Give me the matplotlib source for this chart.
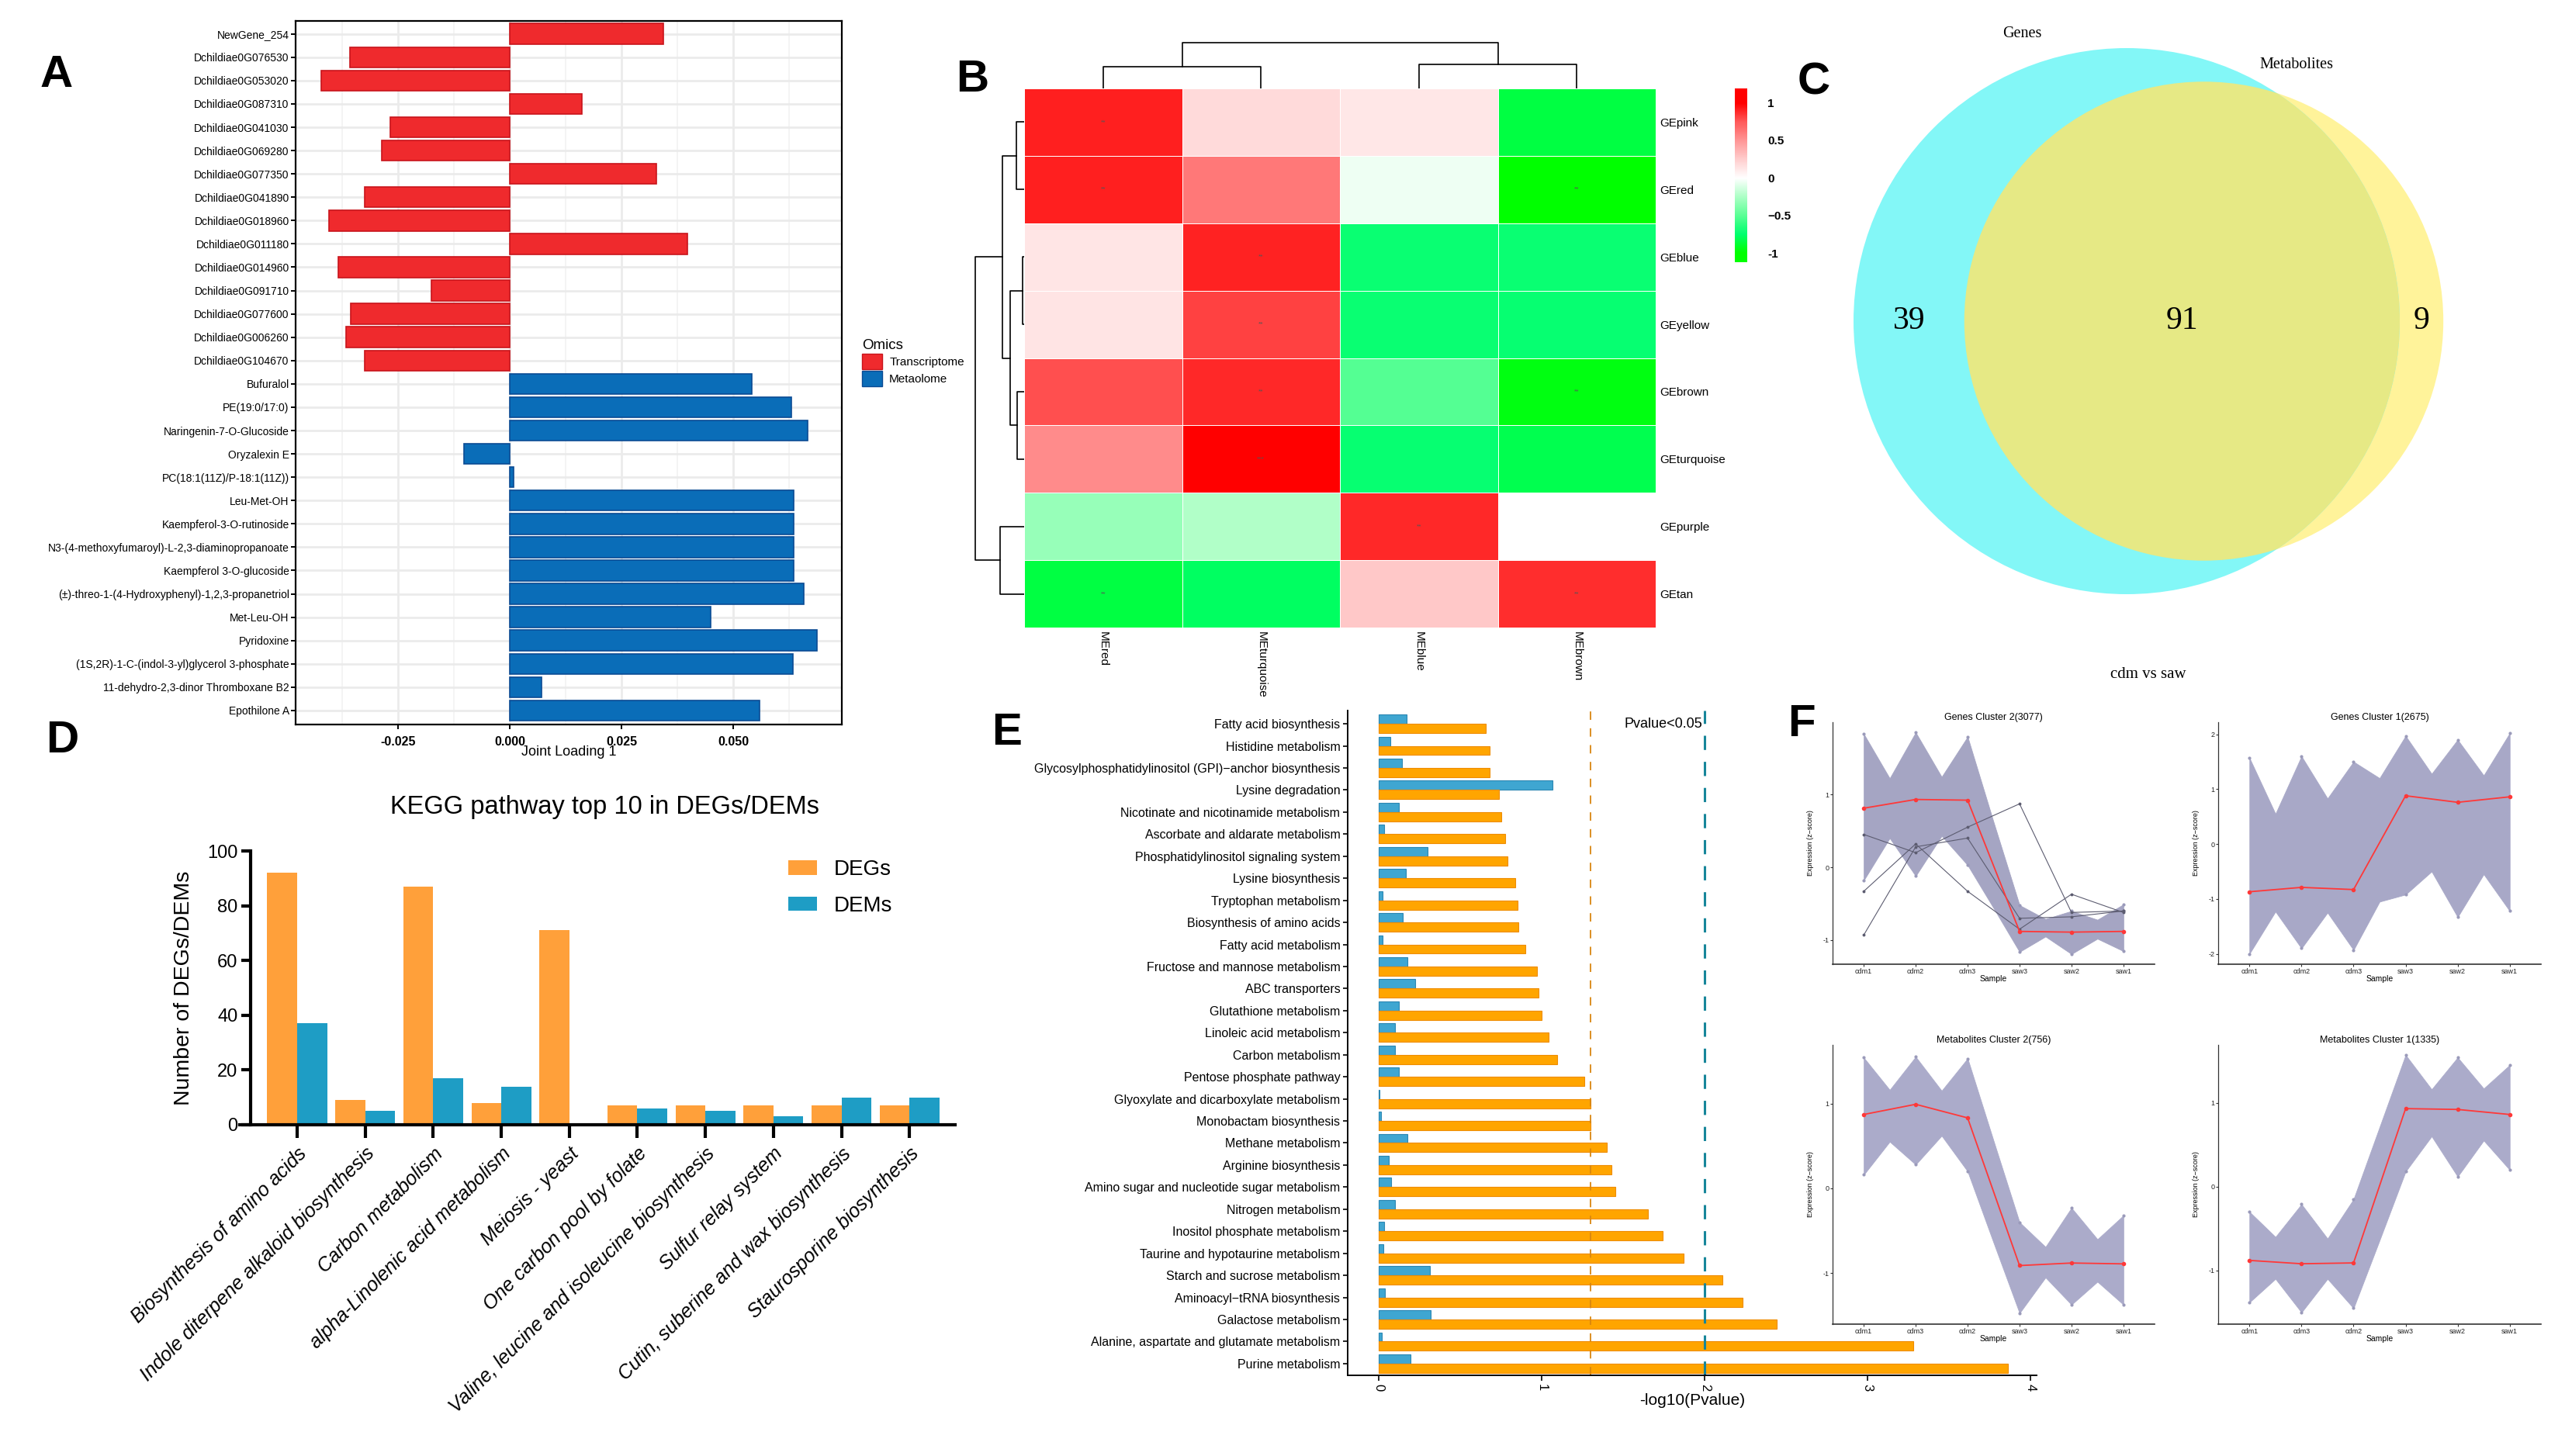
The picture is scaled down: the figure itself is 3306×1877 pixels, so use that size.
import numpy as np
import matplotlib
matplotlib.use("Agg")
import matplotlib.pyplot as plt
from matplotlib.colors import LinearSegmentedColormap
from matplotlib.patches import Circle

plt.rcParams['font.family'] = ['Liberation Sans', 'DejaVu Sans']

W, H = 3306, 1877  # output size in pixels

# === A: joint loading 1 ===
a_genes = ['NewGene_254', 'Dchildiae0G076530', 'Dchildiae0G053020', 'Dchildiae0G087310',
           'Dchildiae0G041030', 'Dchildiae0G069280', 'Dchildiae0G077350', 'Dchildiae0G041890',
           'Dchildiae0G018960', 'Dchildiae0G011180', 'Dchildiae0G014960', 'Dchildiae0G091710',
           'Dchildiae0G077600', 'Dchildiae0G006260', 'Dchildiae0G104670']
a_gene_loading = [0.0343, -0.0358, -0.0422, 0.0161, -0.0268, -0.0287, 0.0328, -0.0324,
                  -0.0404, 0.0398, -0.0383, -0.0176, -0.0355, -0.0367, -0.0324]
a_mets = ['Bufuralol', 'PE(19:0/17:0)', 'Naringenin-7-O-Glucoside', 'Oryzalexin E',
          'PC(18:1(11Z)/P-18:1(11Z))', 'Leu-Met-OH', 'Kaempferol-3-O-rutinoside',
          'N3-(4-methoxyfumaroyl)-L-2,3-diaminopropanoate', 'Kaempferol 3-O-glucoside',
          '(±)-threo-1-(4-Hydroxyphenyl)-1,2,3-propanetriol', 'Met-Leu-OH', 'Pyridoxine',
          '(1S,2R)-1-C-(indol-3-yl)glycerol 3-phosphate', '11-dehydro-2,3-dinor Thromboxane B2',
          'Epothilone A']
a_met_loading = [0.0541, 0.0630, 0.0666, -0.0103, 0.0009, 0.0635, 0.0635, 0.0635, 0.0635,
                 0.0658, 0.0450, 0.0688, 0.0633, 0.0071, 0.0559]

# === B: module correlation heatmap ===
b_rows = ['GEpink', 'GEred', 'GEblue', 'GEyellow', 'GEbrown', 'GEturquoise', 'GEpurple', 'GEtan']
b_cols = ['MEred', 'MEturquoise', 'MEblue', 'MEbrown']
b_corr = [[0.91, 0.18, 0.12, -0.85],
          [0.91, 0.62, -0.05, -1.00],
          [0.13, 0.90, -0.72, -0.72],
          [0.14, 0.82, -0.72, -0.73],
          [0.78, 0.89, -0.52, -0.96],
          [0.54, 1.00, -0.73, -0.82],
          [-0.32, -0.24, 0.89, np.nan],
          [-0.85, -0.78, 0.27, 0.87]]
b_stars = [['**', '', '', ''],
           ['**', '', '', '**'],
           ['', '**', '', ''],
           ['', '**', '', ''],
           ['', '**', '', '**'],
           ['', '***', '', ''],
           ['', '', '**', ''],
           ['**', '', '', '**']]
# dendrogram merges: (child a, child b, height); leaves are 0..n-1, merge k -> node n+k
b_row_merges = [(0, 1, 10), (2, 3, 2), (4, 5, 9), (9, 10, 18.5), (8, 11, 28), (6, 7, 31), (12, 13, 63)]
b_col_merges = [(0, 1, 28), (2, 3, 31), (4, 5, 59)]

# === C: venn ===
c_sets = ['Genes', 'Metabolites']
c_only_genes = 39
c_both = 91
c_only_mets = 9

# === D: KEGG top 10 ===
d_paths = ['Biosynthesis of amino acids', 'Indole diterpene alkaloid biosynthesis',
           'Carbon metabolism', 'alpha-Linolenic acid metabolism', 'Meiosis - yeast',
           'One carbon pool by folate', 'Valine, leucine and isoleucine biosynthesis',
           'Sulfur relay system', 'Cutin, suberine and wax biosynthesis',
           'Staurosporine biosynthesis']
d_degs = [92, 9, 87, 8, 71, 7, 7, 7, 7, 7]
d_dems = [37, 5, 17, 14, 0.6, 6, 5, 3, 10, 10]

# === E: enrichment -log10(P) ===
e_paths = ['Fatty acid biosynthesis', 'Histidine metabolism',
           'Glycosylphosphatidylinositol (GPI)\u2212anchor biosynthesis', 'Lysine degradation',
           'Nicotinate and nicotinamide metabolism', 'Ascorbate and aldarate metabolism',
           'Phosphatidylinositol signaling system', 'Lysine biosynthesis', 'Tryptophan metabolism',
           'Biosynthesis of amino acids', 'Fatty acid metabolism', 'Fructose and mannose metabolism',
           'ABC transporters', 'Glutathione metabolism', 'Linoleic acid metabolism',
           'Carbon metabolism', 'Pentose phosphate pathway', 'Glyoxylate and dicarboxylate metabolism',
           'Monobactam biosynthesis', 'Methane metabolism', 'Arginine biosynthesis',
           'Amino sugar and nucleotide sugar metabolism', 'Nitrogen metabolism',
           'Inositol phosphate metabolism', 'Taurine and hypotaurine metabolism',
           'Starch and sucrose metabolism', 'Aminoacyl\u2212tRNA biosynthesis', 'Galactose metabolism',
           'Alanine, aspartate and glutamate metabolism', 'Purine metabolism']
e_genes = [0.655, 0.68, 0.68, 0.74, 0.75, 0.775, 0.79, 0.84, 0.85, 0.855, 0.90, 0.97, 0.98,
           1.00, 1.043, 1.094, 1.26, 1.30, 1.30, 1.40, 1.43, 1.45, 1.65, 1.74, 1.87, 2.11,
           2.23, 2.44, 3.28, 3.86]
e_mets = [0.17, 0.072, 0.145, 1.064, 0.123, 0.034, 0.30, 0.166, 0.026, 0.149, 0.026, 0.175,
          0.226, 0.123, 0.098, 0.098, 0.123, 0.004, 0.013, 0.175, 0.064, 0.077, 0.098, 0.034,
          0.03, 0.315, 0.038, 0.32, 0.021, 0.196]
e_cut05 = 1.301
e_cut01 = 2.0

# === F: cluster trends (envelope at every half step between samples, plus mean) ===
f_samples_g = ['cdm1', 'cdm2', 'cdm3', 'saw3', 'saw2', 'saw1']
f_samples_m = ['cdm1', 'cdm3', 'cdm2', 'saw3', 'saw2', 'saw1']
gc2_upper = [1.83, 1.22, 1.85, 1.24, 1.79, 0.62, -0.52, -0.71, -0.60, -0.72, -0.51]
gc2_lower = [-0.18, 0.40, -0.12, 0.43, 0.03, -0.56, -1.16, -0.95, -1.19, -0.98, -1.15]
gc2_mean = [0.81, 0.93, 0.92, -0.88, -0.89, -0.88]
gc2_outliers = [[-0.93, 0.28, 0.40, -0.70, -0.68, -0.60],
                [-0.33, 0.32, -0.33, -0.85, -0.37, -0.62],
                [0.45, 0.20, 0.55, 0.87, -0.62, -0.60]]
gc1_upper = [1.57, 0.55, 1.60, 0.83, 1.50, 1.20, 1.97, 1.28, 1.90, 1.25, 2.02]
gc1_lower = [-2.00, -1.23, -1.90, -1.25, -1.93, -1.05, -0.92, -0.50, -1.33, -0.55, -1.22]
gc1_mean = [-0.87, -0.79, -0.83, 0.88, 0.76, 0.86]
mc2_upper = [1.54, 1.16, 1.55, 1.15, 1.53, 0.56, -0.40, -0.69, -0.23, -0.60, -0.32]
mc2_lower = [0.16, 0.55, 0.28, 0.62, 0.20, -0.64, -1.47, -1.05, -1.37, -1.10, -1.37]
mc2_mean = [0.87, 0.99, 0.83, -0.91, -0.88, -0.89]
mc1_upper = [-0.30, -0.60, -0.21, -0.62, -0.15, 0.71, 1.57, 1.16, 1.54, 1.17, 1.45]
mc1_lower = [-1.38, -1.10, -1.50, -1.10, -1.45, -0.64, 0.18, 0.60, 0.12, 0.55, 0.20]
mc1_mean = [-0.88, -0.92, -0.91, 0.93, 0.92, 0.86]


def box(x0, y0, x1, y1):
    """pixel box (top-left origin) -> figure fraction rect"""
    return [x0 / W, 1 - y1 / H, (x1 - x0) / W, (y1 - y0) / H]


def fx(x):
    return x / W


def fy(y):
    return 1 - y / H


fig = plt.figure(figsize=(W / 100, H / 100), dpi=100)

# ---------------- A ----------------
ax = fig.add_axes(box(381, 27, 1085, 934))
a_names = a_genes + a_mets
a_vals = a_gene_loading + a_met_loading
a_face = ['#EF2A2D'] * len(a_genes) + ['#0A6DB8'] * len(a_mets)
a_edge = ['#C8141B'] * len(a_genes) + ['#0A4B94'] * len(a_mets)
ya = np.arange(len(a_names))
ax.barh(ya, a_vals, height=0.88, color=a_face, edgecolor=a_edge, linewidth=1.2, zorder=3)
ax.set_ylim(len(a_names) - 0.4, -0.555)
ax.set_xlim(-0.0479, 0.0743)
ax.set_yticks(ya)
ax.set_yticklabels(a_names, fontsize=10)
ax.set_xticks([-0.025, 0, 0.025, 0.05])
ax.set_xticklabels(['-0.025', '0.000', '0.025', '0.050'], fontsize=11.5, fontweight='bold')
ax.set_xticks([-0.0375, -0.0125, 0.0125, 0.0375, 0.0625], minor=True)
ax.grid(which='major', axis='both', color='#EBEBEB', lw=2.0, zorder=0)
ax.grid(which='minor', axis='x', color='#F2F2F2', lw=1.2, zorder=0)
ax.tick_params(axis='y', length=4, width=1.4, pad=2)
ax.tick_params(axis='x', which='major', length=4, width=1.4, pad=7)
ax.tick_params(axis='x', which='minor', length=0)
for s in ax.spines.values():
    s.set_linewidth(1.6)
ax.set_xlabel('Joint Loading 1', fontsize=13)
ax.xaxis.set_label_coords(0.5, (934 - 961) / 907)
handles = [plt.Rectangle((0, 0), 1, 1, facecolor='#EF2A2D', edgecolor='#C8141B'),
           plt.Rectangle((0, 0), 1, 1, facecolor='#0A6DB8', edgecolor='#0A4B94')]
ax.legend(handles, ['Transcriptome', 'Metaolome'], title='Omics', loc='upper left',
          bbox_to_anchor=(fx(1111), fy(437)), bbox_transform=fig.transFigure, frameon=False,
          fontsize=11, title_fontsize=13.5, handlelength=1.7, handleheight=1.6,
          labelspacing=0.15, handletextpad=0.6, borderpad=0, borderaxespad=0, alignment='left')

# ---------------- B ----------------
b_cmap = LinearSegmentedColormap.from_list('gwr', [
    (0.0, '#00FF00'), (0.125, '#00FF6E'), (0.25, '#5CFF96'), (0.375, '#ADFFC6'),
    (0.5, '#FFFFFF'), (0.625, '#FFCDCD'), (0.75, '#FF9696'), (0.875, '#FF5A5A'), (1.0, '#FF0000')])

axh = fig.add_axes(box(1320, 114, 2134, 809))
corr = np.ma.masked_invalid(np.array(b_corr, dtype=float))
axh.pcolormesh(np.arange(len(b_cols) + 1), np.arange(len(b_rows) + 1), corr, cmap=b_cmap,
               vmin=-1, vmax=1, edgecolors='white', linewidth=0.7)
axh.set_xlim(0, len(b_cols))
axh.set_ylim(len(b_rows), 0)
for s in axh.spines.values():
    s.set_visible(False)
axh.set_xticks(np.arange(len(b_cols)) + 0.5)
axh.set_xticklabels(b_cols, rotation=270, fontsize=11)
axh.set_yticks(np.arange(len(b_rows)) + 0.5)
axh.set_yticklabels(b_rows, fontsize=11)
axh.yaxis.tick_right()
axh.tick_params(length=0, pad=3.5)
for i in range(len(b_rows)):
    for j in range(len(b_cols)):
        if b_stars[i][j]:
            axh.text(j + 0.5, i + 0.5, b_stars[i][j], ha='center', va='center',
                     fontsize=6, color='#555555')


def draw_dendro(axd, merges, n, along_y):
    pos = {i: i + 0.5 for i in range(n)}
    hgt = {i: 0.0 for i in range(n)}
    for k, (a, b, h) in enumerate(merges):
        hs = [hgt[a], h, h, hgt[b]]
        ps = [pos[a], pos[a], pos[b], pos[b]]
        if along_y:
            axd.plot(hs, ps, color='black', lw=1.2)
        else:
            axd.plot(ps, hs, color='black', lw=1.2)
        pos[n + k] = (pos[a] + pos[b]) / 2
        hgt[n + k] = h


axr = fig.add_axes(box(1250, 114, 1320, 809))
draw_dendro(axr, b_row_merges, len(b_rows), True)
axr.set_xlim(70, 0)
axr.set_ylim(len(b_rows), 0)
axr.axis('off')

axt = fig.add_axes(box(1320, 40, 2134, 114))
draw_dendro(axt, b_col_merges, len(b_cols), False)
axt.set_xlim(0, len(b_cols))
axt.set_ylim(0, 74)
axt.axis('off')

axc = fig.add_axes(box(2236, 114, 2252, 338))
grad = np.linspace(-1.12, 1.19, 300)
axc.imshow(np.clip(grad, -1, 1)[:, None], cmap=b_cmap, vmin=-1, vmax=1, aspect='auto',
           origin='lower', extent=(0, 1, -1.12, 1.19))
axc.set_xticks([])
axc.yaxis.tick_right()
axc.set_yticks([1, 0.5, 0, -0.5, -1])
axc.set_yticklabels(['1', '0.5', '0', '\u22120.5', '-1'], fontsize=11, fontweight='bold')
axc.tick_params(length=0, pad=19)
for s in axc.spines.values():
    s.set_visible(False)

# ---------------- C ----------------
axv = fig.add_axes(box(2250, 0, 3306, 880))
axv.set_xlim(2250, 3306)
axv.set_ylim(880, 0)
axv.axis('off')
n_genes = c_only_genes + c_both
n_mets = c_only_mets + c_both
px_per_unit = 352 / np.sqrt(n_genes)          # radius scale (px per sqrt(count))
r1 = px_per_unit * np.sqrt(n_genes)
r2 = px_per_unit * np.sqrt(n_mets)
target = np.pi * r1 ** 2 * c_both / n_genes


def lens(d):
    c1 = np.clip((d ** 2 + r1 ** 2 - r2 ** 2) / (2 * d * r1), -1, 1)
    c2 = np.clip((d ** 2 + r2 ** 2 - r1 ** 2) / (2 * d * r2), -1, 1)
    k = max((-d + r1 + r2) * (d + r1 - r2) * (d - r1 + r2) * (d + r1 + r2), 0)
    return r1 ** 2 * np.arccos(c1) + r2 ** 2 * np.arccos(c2) - 0.5 * np.sqrt(k)


lo, hi = r1 - r2 + 1e-6, r1 + r2
for _ in range(80):
    mid = (lo + hi) / 2
    if lens(mid) > target:
        lo = mid
    else:
        hi = mid
dist = (lo + hi) / 2
cx1, cy = 2741, 414
cx2 = cx1 + dist
met_only = Circle((cx2, cy), r2, facecolor='#FFF39A', edgecolor='none')
gene_c = Circle((cx1, cy), r1, facecolor='#83F7F7', edgecolor='none')
both_c = Circle((cx2, cy), r2, facecolor='#E6E985', edgecolor='none')
axv.add_patch(met_only)
axv.add_patch(gene_c)
axv.add_patch(both_c)
both_c.set_clip_path(gene_c)
serif = ['Liberation Serif', 'DejaVu Serif']
axv.text(((cx1 - r1) + (cx2 - r2)) / 2, cy, str(c_only_genes), ha='center', va='center',
         fontsize=30, family=serif)
axv.text(((cx2 - r2) + (cx1 + r1)) / 2, cy, str(c_both), ha='center', va='center',
         fontsize=30, family=serif)
axv.text(((cx1 + r1) + (cx2 + r2)) / 2, cy, str(c_only_mets), ha='center', va='center',
         fontsize=30, family=serif)
axv.text(2606, 44, c_sets[0], ha='center', va='center', fontsize=14.5, family=serif)
axv.text(2960, 84, c_sets[1], ha='center', va='center', fontsize=14.5, family=serif)
axv.text(2769, 870, 'cdm vs saw', ha='center', va='center', fontsize=15, family=serif)

# ---------------- D ----------------
axd = fig.add_axes(box(309, 1097, 1231, 1450))
xd = np.arange(len(d_paths))
axd.bar(xd - 0.22, d_degs, width=0.44, color='#FFA03A', label='DEGs', zorder=2)
axd.bar(xd + 0.22, d_dems, width=0.44, color='#1E9DC5', label='DEMs', zorder=2)
axd.set_xlim(-0.844, 9.67)
axd.set_ylim(0, 100)
axd.spines['top'].set_visible(False)
axd.spines['right'].set_visible(False)
axd.spines['left'].set_position(('data', -0.684))
axd.spines['left'].set_linewidth(3)
axd.spines['bottom'].set_linewidth(3)
axd.set_yticks(range(0, 101, 20))
axd.tick_params(axis='y', length=9, width=3, labelsize=17, pad=3)
axd.set_xticks(xd)
axd.set_xticklabels(d_paths, rotation=45, ha='right', rotation_mode='anchor',
                    fontstyle='italic', fontsize=18)
axd.tick_params(axis='x', length=12, width=3, pad=6)
axd.set_ylabel('Number of DEGs/DEMs', fontsize=20.5)
axd.yaxis.set_label_coords((250 - 309) / 922, 0.5)
axd.legend(loc='upper left', bbox_to_anchor=(fx(1016), fy(1108)), bbox_transform=fig.transFigure,
           frameon=False, fontsize=20, handlelength=1.33, handleheight=0.65, labelspacing=0.75,
           handletextpad=0.8, borderpad=0, borderaxespad=0)
fig.text(fx(779), fy(1040), 'KEGG pathway top 10 in DEGs/DEMs', ha='center', va='center',
         fontsize=23.5)

# ---------------- E ----------------
axe = fig.add_axes(box(1737, 916, 2625, 1773))
ye = np.arange(len(e_paths))
axe.barh(ye - 0.21, e_mets, height=0.42, color='#3FA6D1', edgecolor='#2B86B2', linewidth=0.8)
axe.barh(ye + 0.21, e_genes, height=0.42, color='#FFA500', edgecolor='#EE8C00', linewidth=0.8)
axe.axvline(e_cut05, color='#D98610', lw=1.3, ls=(0, (6, 6)))
axe.axvline(e_cut01, color='#17869A', lw=2.2, ls=(0, (6, 5)))
axe.text(1.505, 0, 'Pvalue<0.05', ha='left', va='center', fontsize=13)
axe.set_ylim(len(e_paths) - 0.47, -0.6)
axe.set_xlim(-0.19, 4.036)
axe.set_yticks(ye)
axe.set_yticklabels(e_paths, fontsize=11.5)
axe.set_xticks([0, 1, 2, 3, 4])
axe.set_xticklabels(['0', '1', '2', '3', '4'], rotation=270, fontsize=12)
axe.tick_params(axis='y', length=4, width=1.2, pad=3)
axe.tick_params(axis='x', length=5, width=1.2, pad=3)
axe.spines['top'].set_visible(False)
axe.spines['right'].set_visible(False)
axe.spines['left'].set_linewidth(1.4)
axe.spines['bottom'].set_linewidth(1.4)
axe.set_xlabel('-log10(Pvalue)', fontsize=15, labelpad=2)

# ---------------- F ----------------
half = np.arange(11) / 2
f_panels = [
    ('Genes Cluster 2(3077)', f_samples_g, gc2_upper, gc2_lower, gc2_mean, gc2_outliers,
     (2362, 931, 2777, 1243), (-1.33, 1.99), [-1, 0, 1], '#A5A5C3'),
    ('Genes Cluster 1(2675)', f_samples_g, gc1_upper, gc1_lower, gc1_mean, [],
     (2859, 931, 3275, 1243), (-2.19, 2.22), [-2, -1, 0, 1, 2], '#A8A8C7'),
    ('Metabolites Cluster 2(756)', f_samples_m, mc2_upper, mc2_lower, mc2_mean, [],
     (2362, 1347, 2777, 1707), (-1.6, 1.69), [-1, 0, 1], '#ABABCA'),
    ('Metabolites Cluster 1(1335)', f_samples_m, mc1_upper, mc1_lower, mc1_mean, [],
     (2859, 1347, 3275, 1707), (-1.64, 1.69), [-1, 0, 1], '#ABABCA'),
]
for title, samples, up, low, mean, outl, pxbox, ylim, yt, band in f_panels:
    axf = fig.add_axes(box(*pxbox))
    xs = np.arange(len(samples))
    axf.fill_between(half, low, up, color=band, lw=0.6, edgecolor=band)
    axf.plot(xs, up[::2], 'o', ms=2, color='#9A9ABA')
    axf.plot(xs, low[::2], 'o', ms=2, color='#9A9ABA')
    for line in outl:
        axf.plot(xs, line, color='#5C5C70', lw=0.8, marker='o', ms=1.8)
    axf.plot(xs, mean, color='#FF3838', lw=1.3, marker='o', ms=3)
    axf.set_xlim(-0.6, 5.6)
    axf.set_ylim(*ylim)
    axf.set_xticks(xs)
    axf.set_xticklabels(samples, fontsize=6.5)
    axf.set_yticks(yt)
    axf.set_yticklabels([str(v) for v in yt], fontsize=6.5)
    axf.tick_params(length=2, width=0.8, pad=1.5, colors='#333333', labelcolor='#222222')
    axf.spines['top'].set_visible(False)
    axf.spines['right'].set_visible(False)
    axf.spines['left'].set_color('#333333')
    axf.spines['bottom'].set_color('#333333')
    axf.spines['left'].set_linewidth(0.9)
    axf.spines['bottom'].set_linewidth(1.2)
    axf.set_title(title, fontsize=9, pad=1)
    axf.set_xlabel('Sample', fontsize=7.5, labelpad=0)
    axf.set_ylabel('Expression (z\u2212score)', fontsize=6.5)
    axf.yaxis.set_label_coords(-0.058, 0.5)

# ---------------- panel letters ----------------
for letter, px, py in [('A', 73, 97), ('B', 1253, 103), ('C', 2338, 106),
                       ('D', 80, 955), ('E', 1298, 945), ('F', 2322, 934)]:
    fig.text(fx(px), fy(py), letter, ha='center', va='center', fontsize=42, fontweight='bold')

fig.savefig('out.png', dpi=100)
